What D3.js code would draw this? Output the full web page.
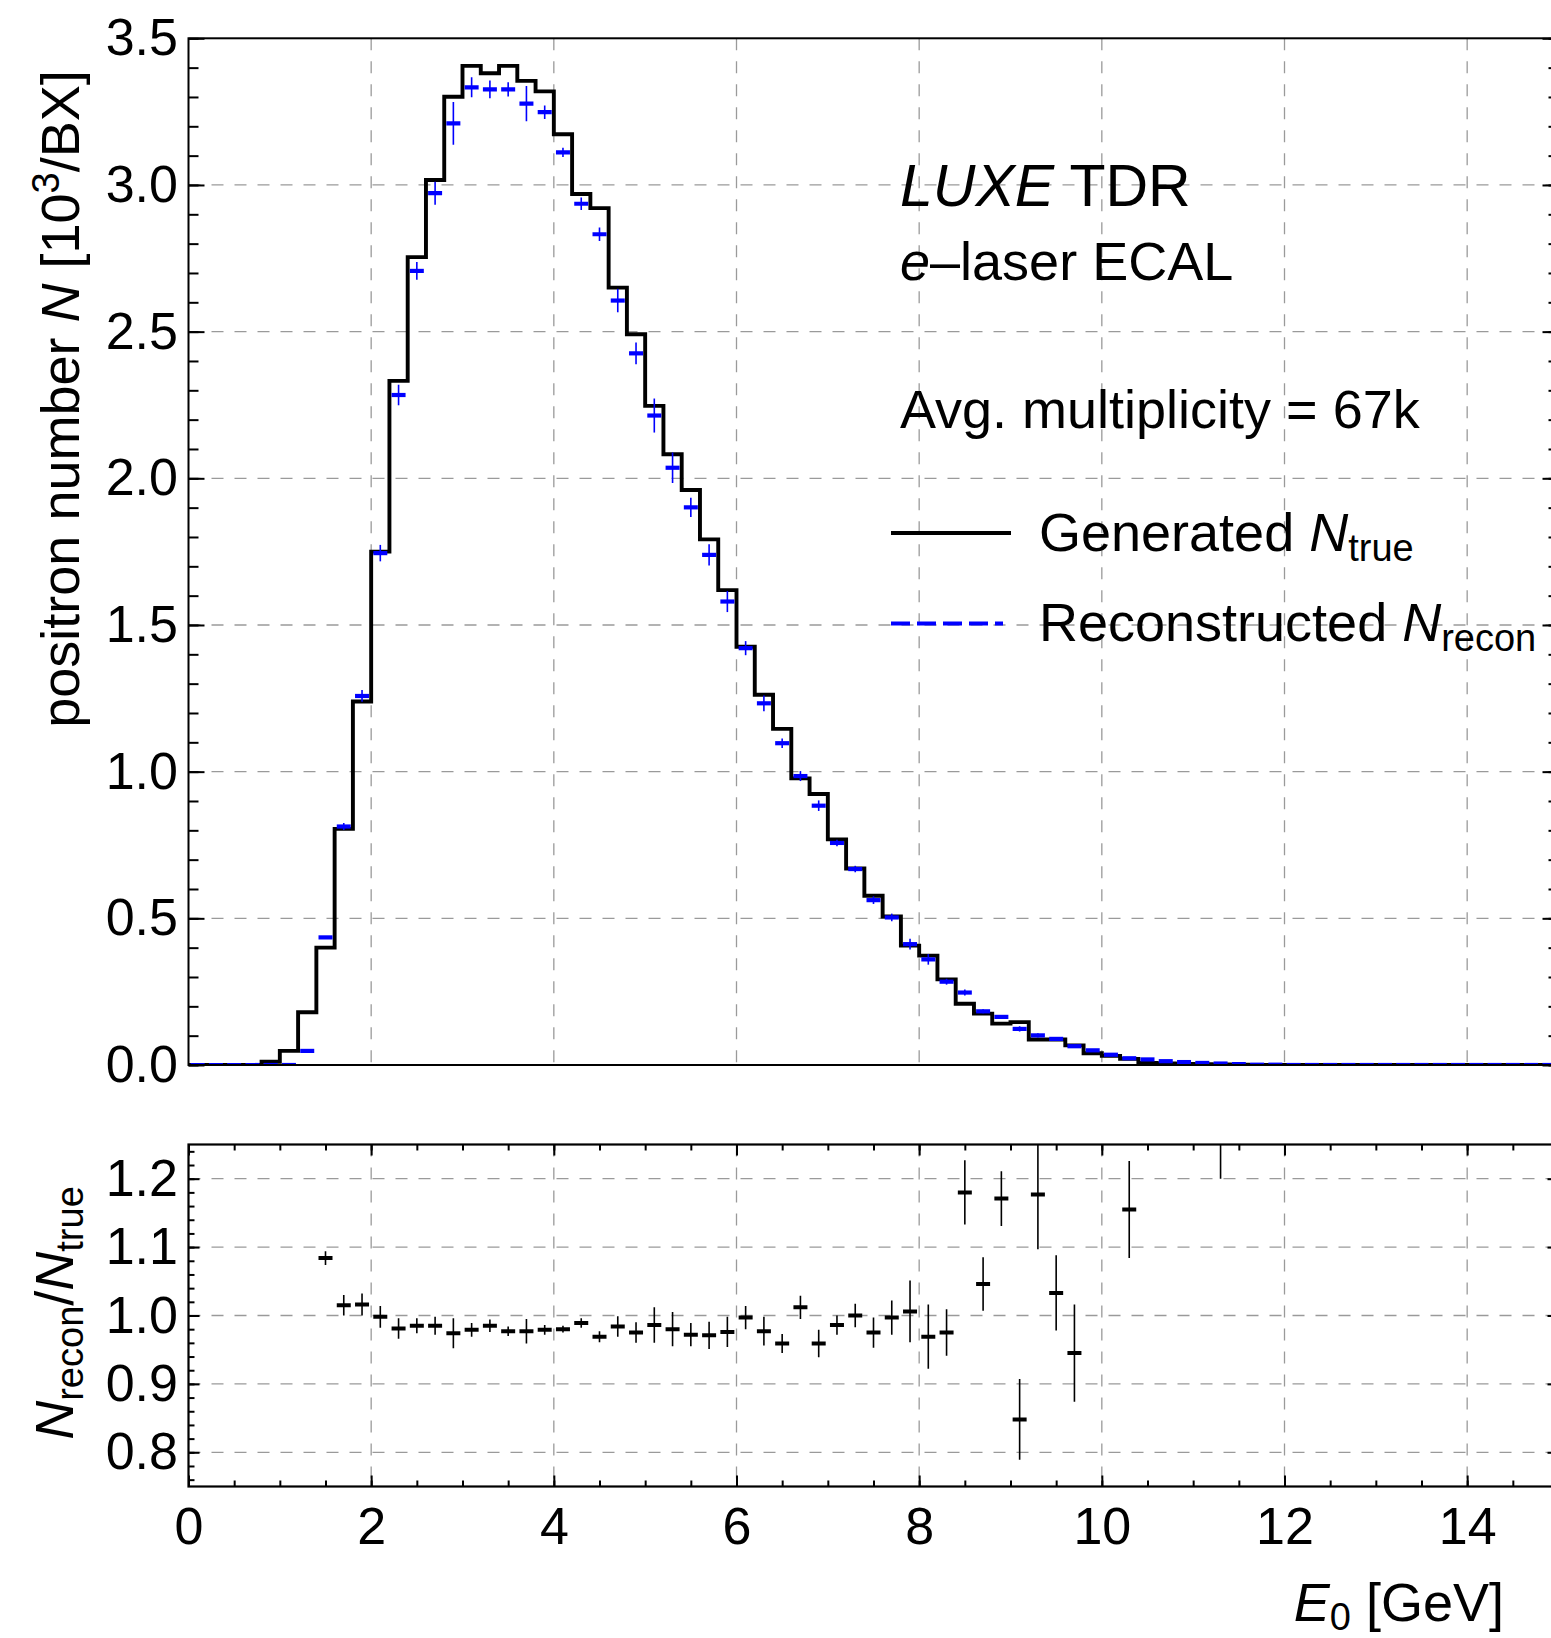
<!DOCTYPE html>
<html>
<head>
<meta charset="utf-8">
<script src="https://cdn.jsdelivr.net/npm/d3@7"></script>
<style>
  body { margin: 0; background: #fff; }
  svg { display: block; }
  text { font-family: "Liberation Sans", Arial, Helvetica, sans-serif; fill: #000; }
</style>
</head>
<body>
<svg width="1551" height="1638"></svg>
<script>
// histogram bins: 0 .. 15 GeV, 0.2 GeV wide
const binWidth = 0.2;
const nBins = 75;

// generated N_true [10^3/BX] per bin
const trueN = [
  0, 0, 0, 0, 0.011, 0.048, 0.180, 0.400, 0.805, 1.239,
  1.750, 2.332, 2.754, 3.017, 3.301, 3.406, 3.381, 3.406, 3.355, 3.319,
  3.173, 2.969, 2.921, 2.650, 2.491, 2.247, 2.082, 1.960, 1.792, 1.619,
  1.426, 1.262, 1.146, 0.977, 0.924, 0.769, 0.670, 0.577, 0.506, 0.407,
  0.373, 0.292, 0.209, 0.175, 0.141, 0.146, 0.087, 0.087, 0.067, 0.040,
  0.031, 0.021, 0.007, 0.005, 0.004, 0.003, 0.002, 0.001, 0, 0,
  0, 0, 0, 0, 0, 0, 0, 0, 0, 0,
  0, 0, 0, 0, 0
];

// reconstructed N_recon per bin
const reconN = [
  0, 0, 0, 0, 0, 0, 0.048, 0.435, 0.813, 1.258,
  1.745, 2.284, 2.707, 2.972, 3.210, 3.333, 3.326, 3.326, 3.277, 3.248,
  3.111, 2.936, 2.832, 2.606, 2.426, 2.214, 2.036, 1.901, 1.739, 1.580,
  1.421, 1.233, 1.097, 0.985, 0.884, 0.757, 0.668, 0.562, 0.503, 0.412,
  0.360, 0.284, 0.247, 0.183, 0.164, 0.123, 0.101, 0.089, 0.064, 0.050,
  0.035, 0.023, 0.019, 0.013, 0.010, 0.007, 0.005, 0.003, 0.001, 0.001,
  0, 0, 0, 0, 0, 0, 0, 0, 0, 0,
  0, 0, 0, 0, 0
];

// error on N_recon
const reconErr = [
  0, 0, 0, 0, 0, 0, 0.002, 0.004, 0.012, 0.020,
  0.028, 0.035, 0.030, 0.039, 0.073, 0.034, 0.030, 0.024, 0.060, 0.023,
  0.016, 0.021, 0.023, 0.040, 0.037, 0.058, 0.052, 0.033, 0.036, 0.036,
  0.024, 0.027, 0.016, 0.017, 0.018, 0.011, 0.011, 0.013, 0.013, 0.018,
  0.018, 0.010, 0.010, 0.007, 0.006, 0.009, 0.007, 0.005, 0.005, 0.003,
  0.002, 0.002, 0, 0, 0, 0, 0, 0, 0, 0,
  0, 0, 0, 0, 0, 0, 0, 0, 0, 0,
  0, 0, 0, 0, 0
];

// ratio panel N_recon/N_true
const ratioE = [1.5, 1.7, 1.9, 2.1, 2.3, 2.5, 2.7, 2.9, 3.1, 3.3,
  3.5, 3.7, 3.9, 4.1, 4.3, 4.5, 4.7, 4.9, 5.1, 5.3,
  5.5, 5.7, 5.9, 6.1, 6.3, 6.5, 6.7, 6.9, 7.1, 7.3,
  7.5, 7.7, 7.9, 8.1, 8.3, 8.5, 8.7, 8.9, 9.1, 9.3,
  9.5, 9.7, 10.3, 11.3];
const ratioVal = [1.084, 1.015, 1.016, 0.998, 0.981, 0.985, 0.985, 0.974, 0.979, 0.985,
  0.977, 0.977, 0.979, 0.980, 0.989, 0.969, 0.984, 0.975, 0.986, 0.980,
  0.972, 0.971, 0.976, 0.997, 0.977, 0.959, 1.012, 0.959, 0.986, 1.000,
  0.975, 0.997, 1.006, 0.969, 0.975, 1.180, 1.046, 1.171, 0.848, 1.177,
  1.033, 0.945, 1.155, 1.33];
const ratioErr = [0.010, 0.015, 0.016, 0.016, 0.015, 0.011, 0.013, 0.022, 0.010, 0.009,
  0.007, 0.018, 0.007, 0.005, 0.007, 0.008, 0.015, 0.015, 0.026, 0.025,
  0.017, 0.020, 0.022, 0.017, 0.021, 0.014, 0.017, 0.020, 0.014, 0.017,
  0.022, 0.025, 0.045, 0.047, 0.034, 0.047, 0.039, 0.040, 0.059, 0.080,
  0.055, 0.071, 0.071, 0.13];

const xTicksMajor = [0, 2, 4, 6, 8, 10, 12, 14];
const yTopTicks = [0, 0.5, 1.0, 1.5, 2.0, 2.5, 3.0, 3.5];
const yBotTicks = [0.8, 0.9, 1.0, 1.1, 1.2];

const svg = d3.select("svg");
const tickFont = 52;
const labelFont = 54;
const subFont = 38;
const fontFam = '"Liberation Sans", Arial, Helvetica, sans-serif';

const x = d3.scaleLinear().domain([0, 15]).range([188.5, 1558.5]);
const yTop = d3.scaleLinear().domain([0, 3.5]).range([1065, 38.3]);
const yBot = d3.scaleLinear().domain([0.75, 1.25]).range([1486.5, 1144.5]);

const left = x.range()[0], right = x.range()[1];

const defs = svg.append("defs");
defs.append("clipPath").attr("id", "clipTop").append("rect")
  .attr("x", left).attr("y", yTop.range()[1])
  .attr("width", right - left).attr("height", yTop.range()[0] - yTop.range()[1]);
defs.append("clipPath").attr("id", "clipBot").append("rect")
  .attr("x", left).attr("y", yBot.range()[1])
  .attr("width", right - left).attr("height", yBot.range()[0] - yBot.range()[1]);

const gridStyle = g => g
  .attr("stroke", "#9a9a9a")
  .attr("stroke-width", 1.3)
  .attr("stroke-dasharray", "12,11")
  .attr("fill", "none");

// ---------- top panel ----------
const gTop = svg.append("g");

const gridTop = gTop.append("g").call(gridStyle);
gridTop.selectAll(".vx").data(xTicksMajor.filter(d => d > 0))
  .enter().append("line")
  .attr("x1", d => x(d)).attr("x2", d => x(d))
  .attr("y1", yTop.range()[1]).attr("y2", yTop.range()[0]);
gridTop.selectAll(".hy").data(yTopTicks.filter(d => d > 0 && d < 3.5))
  .enter().append("line")
  .attr("x1", left).attr("x2", right)
  .attr("y1", d => yTop(d)).attr("y2", d => yTop(d));

const plotTop = gTop.append("g").attr("clip-path", "url(#clipTop)");

const stepPts = trueN.map((v, i) => [i * binWidth, v]);
stepPts.push([nBins * binWidth, trueN[nBins - 1]]);
plotTop.append("path")
  .datum(stepPts)
  .attr("fill", "none")
  .attr("stroke", "#000")
  .attr("stroke-width", 3.9)
  .attr("d", d3.line().x(d => x(d[0])).y(d => yTop(d[1])).curve(d3.curveStepAfter));

const recon = reconN.map((v, i) => ({ c: (i + 0.5) * binWidth, v: v, e: reconErr[i] }));
plotTop.selectAll(".rerr").data(recon.filter(d => d.e > 0))
  .enter().append("line")
  .attr("x1", d => x(d.c)).attr("x2", d => x(d.c))
  .attr("y1", d => yTop(d.v - d.e)).attr("y2", d => yTop(d.v + d.e))
  .attr("stroke", "#0000ff").attr("stroke-width", 1.6);
plotTop.selectAll(".rbar").data(recon)
  .enter().append("line")
  .attr("x1", d => x(d.c) - 7).attr("x2", d => x(d.c) + 7)
  .attr("y1", d => yTop(d.v)).attr("y2", d => yTop(d.v))
  .attr("stroke", "#0000ff").attr("stroke-width", 4.2);

// frame + ticks
gTop.append("rect")
  .attr("x", left).attr("y", yTop.range()[1])
  .attr("width", right - left).attr("height", yTop.range()[0] - yTop.range()[1])
  .attr("fill", "none").attr("stroke", "#000").attr("stroke-width", 2);

const yTopMinor = d3.range(0, 36).map(i => i / 10);
const tickStyle = g => { g.select(".domain").remove(); g.selectAll("line").attr("stroke-width", 2); };

gTop.append("g").attr("transform", `translate(${left},0)`)
  .call(d3.axisRight(yTop).tickValues(yTopMinor).tickSize(10).tickFormat(""))
  .call(tickStyle);
gTop.append("g").attr("transform", `translate(${left},0)`)
  .call(d3.axisRight(yTop).tickValues(yTopTicks).tickSize(16).tickFormat(""))
  .call(tickStyle);
gTop.append("g").attr("transform", `translate(${right},0)`)
  .call(d3.axisLeft(yTop).tickValues(yTopMinor).tickSize(10).tickFormat(""))
  .call(tickStyle);
gTop.append("g").attr("transform", `translate(${right},0)`)
  .call(d3.axisLeft(yTop).tickValues(yTopTicks).tickSize(16).tickFormat(""))
  .call(tickStyle);

gTop.append("g").attr("transform", `translate(${left},0)`)
  .call(d3.axisLeft(yTop).tickValues(yTopTicks).tickSize(0).tickPadding(10.5).tickFormat(d3.format(".1f")))
  .call(g => g.select(".domain").remove())
  .attr("font-size", tickFont).attr("font-family", fontFam);

// ---------- bottom panel ----------
const gBot = svg.append("g");
const gridBot = gBot.append("g").call(gridStyle);
gridBot.selectAll(".vx").data(xTicksMajor.filter(d => d > 0))
  .enter().append("line")
  .attr("x1", d => x(d)).attr("x2", d => x(d))
  .attr("y1", yBot.range()[1]).attr("y2", yBot.range()[0]);
gridBot.selectAll(".hy").data(yBotTicks)
  .enter().append("line")
  .attr("x1", left).attr("x2", right)
  .attr("y1", d => yBot(d)).attr("y2", d => yBot(d));

const plotBot = gBot.append("g").attr("clip-path", "url(#clipBot)");
const ratio = ratioE.map((e, i) => ({ c: e, v: ratioVal[i], e: ratioErr[i] }));
plotBot.selectAll(".qerr").data(ratio)
  .enter().append("line")
  .attr("x1", d => x(d.c)).attr("x2", d => x(d.c))
  .attr("y1", d => yBot(d.v - d.e)).attr("y2", d => yBot(d.v + d.e))
  .attr("stroke", "#000").attr("stroke-width", 1.6);
plotBot.selectAll(".qbar").data(ratio)
  .enter().append("line")
  .attr("x1", d => x(d.c) - 7).attr("x2", d => x(d.c) + 7)
  .attr("y1", d => yBot(d.v)).attr("y2", d => yBot(d.v))
  .attr("stroke", "#000").attr("stroke-width", 4);

gBot.append("rect")
  .attr("x", left).attr("y", yBot.range()[1])
  .attr("width", right - left).attr("height", yBot.range()[0] - yBot.range()[1])
  .attr("fill", "none").attr("stroke", "#000").attr("stroke-width", 2.2);

const xMinor = d3.range(0, 31).map(i => i / 2);
const yBotMinor = d3.range(38, 63).map(i => i / 50);
const yBotMajor = [0.8, 0.9, 1.0, 1.1, 1.2];

gBot.append("g").attr("transform", `translate(0,${yBot.range()[1]})`)
  .call(d3.axisBottom(x).tickValues(xMinor).tickSize(6).tickFormat("")).call(tickStyle);
gBot.append("g").attr("transform", `translate(0,${yBot.range()[1]})`)
  .call(d3.axisBottom(x).tickValues(xTicksMajor).tickSize(11).tickFormat("")).call(tickStyle);
gBot.append("g").attr("transform", `translate(0,${yBot.range()[0]})`)
  .call(d3.axisTop(x).tickValues(xMinor).tickSize(6).tickFormat("")).call(tickStyle);
gBot.append("g").attr("transform", `translate(0,${yBot.range()[0]})`)
  .call(d3.axisTop(x).tickValues(xTicksMajor).tickSize(11).tickFormat("")).call(tickStyle);

gBot.append("g").attr("transform", `translate(${left},0)`)
  .call(d3.axisRight(yBot).tickValues(yBotMinor).tickSize(6).tickFormat("")).call(tickStyle);
gBot.append("g").attr("transform", `translate(${left},0)`)
  .call(d3.axisRight(yBot).tickValues(yBotMajor).tickSize(11).tickFormat("")).call(tickStyle);
gBot.append("g").attr("transform", `translate(${right},0)`)
  .call(d3.axisLeft(yBot).tickValues(yBotMinor).tickSize(6).tickFormat("")).call(tickStyle);
gBot.append("g").attr("transform", `translate(${right},0)`)
  .call(d3.axisLeft(yBot).tickValues(yBotMajor).tickSize(11).tickFormat("")).call(tickStyle);

gBot.append("g").attr("transform", `translate(${left},0)`)
  .call(d3.axisLeft(yBot).tickValues(yBotTicks).tickSize(0).tickPadding(10.5).tickFormat(d3.format(".1f")))
  .call(g => g.select(".domain").remove())
  .attr("font-size", tickFont).attr("font-family", fontFam);

gBot.append("g").attr("transform", `translate(0,${yBot.range()[0]})`)
  .call(d3.axisBottom(x).tickValues(xTicksMajor).tickSize(0).tickPadding(21).tickFormat(d3.format("d")))
  .call(g => g.select(".domain").remove())
  .attr("font-size", tickFont).attr("font-family", fontFam);

// ---------- labels ----------
const yLabTop = svg.append("text")
  .attr("transform", "translate(79,399) rotate(-90)")
  .attr("text-anchor", "middle")
  .attr("font-size", labelFont);
yLabTop.append("tspan").text("positron number ");
yLabTop.append("tspan").attr("font-style", "italic").text("N");
yLabTop.append("tspan").text(" [10");
yLabTop.append("tspan").attr("font-size", subFont).attr("dy", -20).text("3");
yLabTop.append("tspan").attr("dy", 20).text("/BX]");

const yLabBot = svg.append("text")
  .attr("transform", "translate(73,1313) rotate(-90)")
  .attr("text-anchor", "middle")
  .attr("font-size", labelFont);
yLabBot.append("tspan").attr("font-style", "italic").text("N");
yLabBot.append("tspan").attr("font-size", subFont).attr("dy", 10).text("recon");
yLabBot.append("tspan").attr("dy", -10).text("/");
yLabBot.append("tspan").attr("font-style", "italic").text("N");
yLabBot.append("tspan").attr("font-size", subFont).attr("dy", 10).text("true");

const xLab = svg.append("text")
  .attr("x", 1504).attr("y", 1621)
  .attr("text-anchor", "end")
  .attr("font-size", labelFont);
xLab.append("tspan").attr("font-style", "italic").text("E");
xLab.append("tspan").attr("font-size", subFont).attr("dy", 9).text("0");
xLab.append("tspan").attr("dy", -9).text(" [GeV]");

// annotations
const t1 = svg.append("text").attr("x", 900).attr("y", 206).attr("font-size", 59);
t1.append("tspan").attr("font-style", "italic").text("LUXE");
t1.append("tspan").text(" TDR");

const t2 = svg.append("text").attr("x", 900).attr("y", 280).attr("font-size", labelFont);
t2.append("tspan").attr("font-style", "italic").text("e");
t2.append("tspan").text("\u2013laser ECAL");

svg.append("text").attr("x", 900).attr("y", 428).attr("font-size", labelFont)
  .text("Avg. multiplicity = 67k");

// legend
svg.append("line")
  .attr("x1", 891).attr("x2", 1011).attr("y1", 533).attr("y2", 533)
  .attr("stroke", "#000").attr("stroke-width", 3.9);
const l1 = svg.append("text").attr("x", 1039).attr("y", 551).attr("font-size", labelFont);
l1.append("tspan").text("Generated ");
l1.append("tspan").attr("font-style", "italic").text("N");
l1.append("tspan").attr("font-size", subFont).attr("dy", 10).text("true");

svg.append("line")
  .attr("x1", 891).attr("x2", 1003).attr("y1", 623.5).attr("y2", 623.5)
  .attr("stroke", "#0000ff").attr("stroke-width", 4.2)
  .attr("stroke-dasharray", "19,7");
const l2 = svg.append("text").attr("x", 1039).attr("y", 641).attr("font-size", labelFont);
l2.append("tspan").text("Reconstructed ");
l2.append("tspan").attr("font-style", "italic").text("N");
l2.append("tspan").attr("font-size", subFont).attr("dy", 10).text("recon");
</script>
</body>
</html>
